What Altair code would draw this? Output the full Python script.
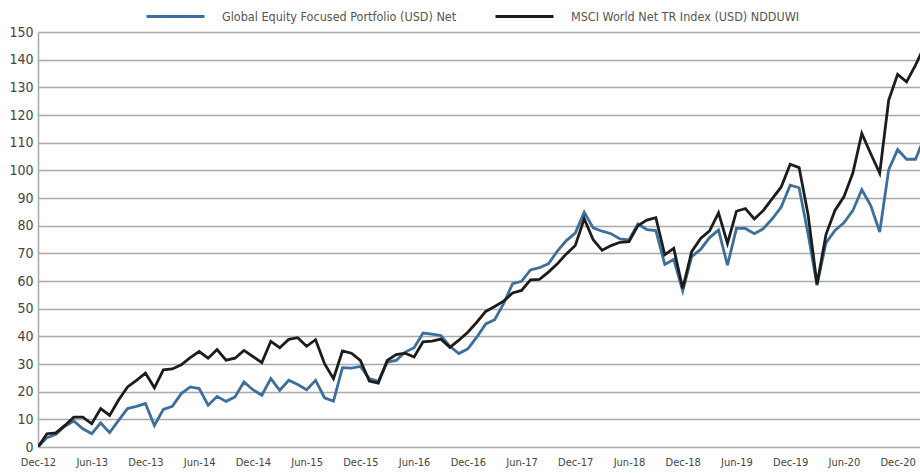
import altair as alt
import pandas as pd

# Month index 0 = Dec-12, monthly observations
portfolio = [0, 3.4, 4.6, 7.5, 9.4, 6.6, 4.8, 8.7, 5.2, 9.6,
             13.9, 14.7, 15.7, 7.8, 13.6, 14.7, 19.3, 21.7, 21.1, 15.1,
             18.3, 16.5, 18.1, 23.5, 20.7, 18.7, 24.7, 20.5, 24.1, 22.6,
             20.7, 24.1, 17.8, 16.6, 28.7, 28.5, 29.1, 24.7, 23.7, 30.7,
             31.3, 34.3, 35.9, 41.2, 40.8, 40.3, 36.4, 33.8, 35.5, 39.7,
             44.5, 46.0, 51.8, 59.0, 59.9, 64.0, 64.8, 66.2, 70.8, 74.6,
             77.3, 84.9, 79.2, 78.0, 77.1, 75.2, 74.9, 80.6, 78.6, 78.2,
             66.0, 67.8, 56.4, 68.8, 71.4, 75.7, 78.4, 65.7, 79.0, 79.0,
             77.1, 78.9, 82.5, 86.7, 94.6, 93.7, 77.0, 58.5, 73.8, 78.3,
             81.0, 85.5, 93.0, 87.3, 77.7, 100.2, 107.5, 104.0, 104.0, 112.0]

msci = [0, 4.8, 5.1, 7.8, 10.8, 10.8, 8.4, 13.9, 11.4, 17.0,
        21.7, 24.1, 26.7, 21.4, 27.9, 28.2, 29.7, 32.3, 34.5, 32.1,
        35.2, 31.4, 32.1, 34.9, 32.7, 30.5, 38.2, 35.9, 38.9, 39.5,
        36.4, 38.8, 30.1, 24.7, 34.7, 33.9, 31.3, 23.8, 23.1, 31.3,
        33.4, 33.9, 32.5, 38.0, 38.3, 39.0, 36.0, 38.6, 41.5, 45.1,
        49.0, 50.8, 52.7, 55.7, 56.6, 60.4, 60.6, 63.2, 66.2, 69.8,
        72.8, 82.5, 74.9, 71.1, 72.8, 74.0, 74.2, 80.0, 82.0, 82.9,
        69.5, 71.8, 57.3, 70.6, 75.4, 78.1, 84.6, 73.6, 85.2, 86.2,
        82.4, 85.5, 89.8, 94.0, 102.2, 101.0, 84.0, 58.8, 76.8, 85.5,
        90.4, 99.0, 113.3, 106.0, 99.0, 125.3, 134.7, 132.0, 138.0, 145.0]

series_names = ["Global Equity Focused Portfolio (USD) Net",
                "MSCI World Net TR Index (USD) NDDUWI"]
series_colors = ["#3d6f9c", "#1c1c1c"]

x_labels = ["Dec-12", "Jun-13", "Dec-13", "Jun-14", "Dec-14", "Jun-15",
            "Dec-15", "Jun-16", "Dec-16", "Jun-17", "Dec-17", "Jun-18",
            "Dec-18", "Jun-19", "Dec-19", "Jun-20", "Dec-20"]
x_tick_values = [i * 6 for i in range(len(x_labels))]
y_tick_values = list(range(0, 151, 10))

rows = []
for i, v in enumerate(portfolio):
    rows.append({"month": i, "value": v, "series": series_names[0]})
for i, v in enumerate(msci):
    rows.append({"month": i, "value": v, "series": series_names[1]})
df = pd.DataFrame(rows)

FONT = "DejaVu Sans Condensed, Liberation Sans Narrow, sans-serif"
label_js = "[" + ",".join("'" + s + "'" for s in x_labels) + "]"

chart = alt.Chart(df).mark_line(clip=True, strokeWidth=2.8).encode(
    x=alt.X("month:Q",
            scale=alt.Scale(domain=[0, 98.5], nice=False, zero=False),
            axis=alt.Axis(values=x_tick_values,
                          labelExpr=label_js + "[round(datum.value/6)]",
                          grid=False, domain=False, ticks=False,
                          labelFont=FONT, labelFontSize=11, labelColor="#444444",
                          labelPadding=9, labelFlush=False, title=None)),
    y=alt.Y("value:Q",
            scale=alt.Scale(domain=[0, 150], nice=False),
            axis=alt.Axis(values=y_tick_values, grid=True, gridColor="#a8a8a8",
                          gridWidth=1.5, domain=True, domainColor="#a8a8a8",
                          domainWidth=1.5, ticks=False, labelFont=FONT,
                          labelFontSize=14, labelColor="#444444", labelPadding=5,
                          title=None)),
    color=alt.Color("series:N",
                    scale=alt.Scale(domain=series_names, range=series_colors),
                    sort=series_names,
                    legend=alt.Legend(orient="none", legendX=107, legendY=-46,
                                      direction="horizontal", title=None,
                                      symbolType="stroke", symbolSize=3364,
                                      symbolStrokeWidth=3, labelFont=FONT,
                                      labelFontSize=12.5, labelColor="#555555",
                                      labelLimit=400, labelOffset=16,
                                      columnPadding=32, padding=0)),
    order=alt.Order("month:Q"),
).properties(
    width=882, height=415,
    autosize=alt.AutoSizeParams(type="none"),
    padding={"left": 38, "top": 32, "right": 0, "bottom": 26},
).configure_view(stroke=None)

chart.save("out.html", embed_options={"renderer": "svg", "actions": False})
